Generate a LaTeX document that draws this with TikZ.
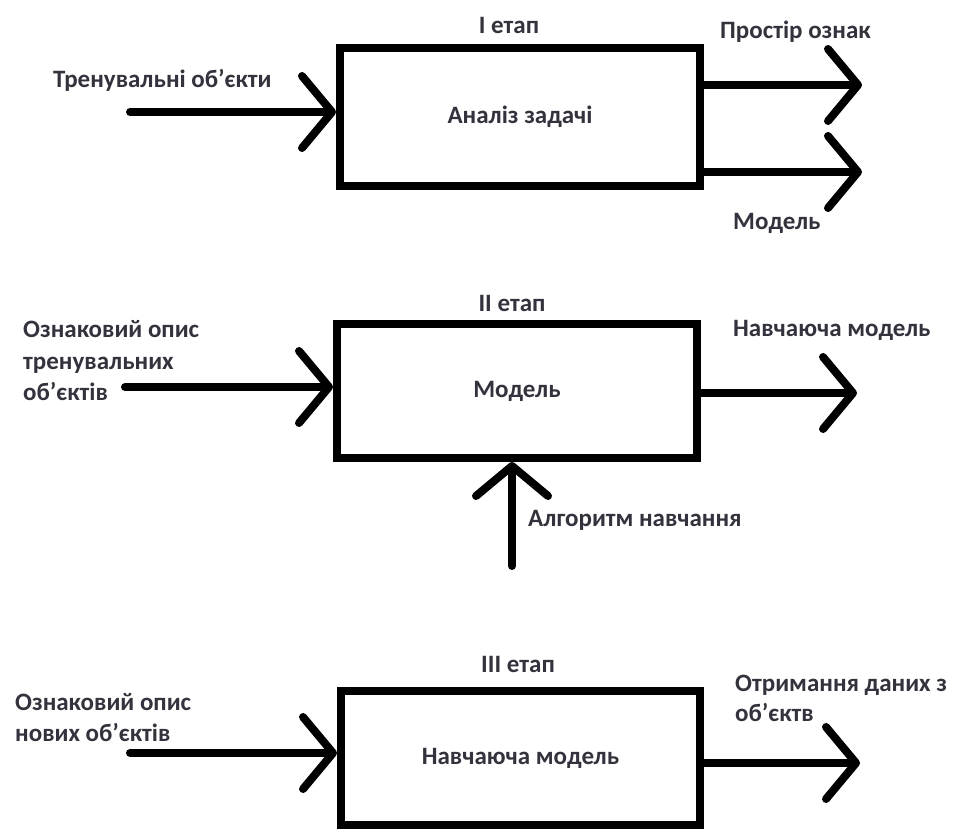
\documentclass[tikz,border=0pt]{standalone}
\usepackage{fontspec}
\setmainfont{Carlito}
\usetikzlibrary{arrows.meta}
\definecolor{txt}{HTML}{34323C}
\newcommand\lblfont{\fontsize{25}{30}\selectfont\bfseries}
\tikzset{
  box/.style={draw, line width=8pt, inner sep=0pt, font=\lblfont, text=txt},
  lbl/.style={inner sep=0pt, font=\lblfont, text=txt},
  conn/.style={line width=8pt, line cap=round,
    -{Straight Barb[length=30pt,width=72pt,round]}}
}
\begin{document}
\begin{tikzpicture}[x=1pt,y=-1pt]
\useasboundingbox[fill=white] (0,0) rectangle (955,829);

% ---------- Stage I ----------
\node[box, minimum width=360pt, minimum height=138pt] (b1) at (520,117) {Аналіз задачі};
\node[lbl] (t1) at (509,25) {I етап};
\node[lbl, anchor=west] (l1in) at (53,80) {Тренувальні об'єкти};
\node[lbl, anchor=west] (l1oa) at (720,32) {Простір ознак};
\node[lbl, anchor=west] (l1ob) at (733,223) {Модель};
\coordinate (s1) at (130,112);
\coordinate (e1a) at (862,85);
\coordinate (e1b) at (862,172);
\draw[conn] (s1) -- (s1 -| b1.west);
\draw[conn] (e1a -| b1.east) -- (e1a);
\draw[conn] (e1b -| b1.east) -- (e1b);

% ---------- Stage II ----------
\node[box, minimum width=360pt, minimum height=134pt] (b2) at (517,391) {Модель};
\node[lbl] (t2) at (512,303) {II етап};
\node[lbl, anchor=west, align=left, font=\fontsize{25}{31.5}\selectfont\bfseries] (l2in) at (23,361)
  {Ознаковий опис\\тренувальних\\об'єктів};
\node[lbl, anchor=west] (l2out) at (733,330) {Навчаюча модель};
\node[lbl, anchor=west] (l2alg) at (528,520) {Алгоритм навчання};
\coordinate (s2) at (125,387);
\coordinate (e2) at (857,393);
\coordinate (s2b) at (512,566);
\draw[conn] (s2) -- (s2 -| b2.west);
\draw[conn] (e2 -| b2.east) -- (e2);
\draw[conn] (s2b) -- (s2b |- b2.south);

% ---------- Stage III ----------
\node[box, minimum width=359pt, minimum height=134pt] (b3) at (520.5,758) {Навчаюча модель};
\node[lbl] (t3) at (518,664) {III етап};
\node[lbl, anchor=west, align=left, font=\fontsize{25}{31}\selectfont\bfseries] (l3in) at (15,717.5)
  {Ознаковий опис\\нових об'єктів};
\node[lbl, anchor=west, align=left, font=\fontsize{25}{30}\selectfont\bfseries] (l3out) at (735,698)
  {Отримання даних з\\об'єктв};
\coordinate (s3) at (130,753);
\coordinate (e3) at (860,763);
\draw[conn] (s3) -- (s3 -| b3.west);
\draw[conn] (e3 -| b3.east) -- (e3);
\end{tikzpicture}
\end{document}
